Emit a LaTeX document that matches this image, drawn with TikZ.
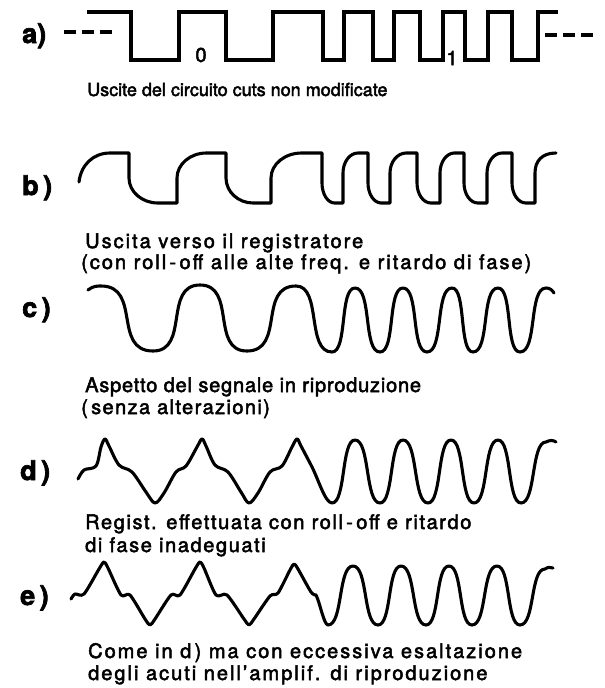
\documentclass[tikz,border=0pt]{standalone}
\usepackage{fontspec}
\setmainfont{TeX Gyre Heros}[FakeBold=2.5]
\begin{document}
\begin{tikzpicture}[x=1pt, y=-1pt,
  wave/.style={line width=3.1pt, line cap=round, line join=round},
  tag/.style={anchor=base west, inner sep=0pt, font=\fontsize{27}{29}\selectfont\bfseries},
  caption/.style={anchor=base west, inner sep=0pt,
    font=\fontsize{20}{22}\selectfont\addfontfeature{LetterSpace=10}}]

  % Bounding box = the 605x688 page, y runs downwards
  \path[use as bounding box] (0,0) rectangle (605,688);

  % ---- a) square wave from the circuit ----
  \node[tag] (tagA) at (22,43) {a)};
  \draw[wave, line join=miter, line cap=butt] (87,12)
    \foreach \xa/\ya/\yb in {131/12/60, 179/60/12, 226/12/60, 273/60/12,
                             323/12/60, 344/60/12, 373/12/60, 394/60/12,
                             420/12/60, 443/60/12, 465/12/60, 488/60/12,
                             512/12/60, 538/60/12}
    { -- (\xa,\ya) -- (\xa,\yb) } -- (558,12);
  \draw[wave, line cap=butt, dash pattern=on 12pt off 6pt] (64,32) -- (113,32);
  \draw[wave, line cap=butt, dash pattern=on 12pt off 6pt] (545,35) -- (595,35);
  \node[caption, anchor=center, font=\fontsize{20}{22}\selectfont] (bitZero) at (201,55) {0};
  \node[caption, anchor=center, font=\fontsize{20}{22}\selectfont] (bitOne) at (452,58) {1};
  \node[caption, font=\fontsize{18}{20}\selectfont] (capA) at (87,96)
    {Uscite del circuito cuts non modificate};

  % ---- b) output towards the recorder ----
  \node[tag] (tagB) at (22,195) {b\,)};
  \draw[wave] (79,182) .. controls (81,165) and (93,153) .. (110,153) -- (129,153)
    \foreach \xa/\xb/\ya/\yb/\f in {129/177/153/203/0.5, 177/226/203/153/0.5,
                                   226/271/153/203/0.5, 271/322/203/153/0.5,
                                   322/343/153/203/0.6, 343/368/203/153/0.6,
                                   368/390/153/203/0.6, 390/417/203/153/0.6,
                                   417/440/153/203/0.6, 440/464/203/153/0.6,
                                   464/487/153/203/0.6, 487/512/203/153/0.6,
                                   512/535/153/203/0.6}
    { -- (\xa,{\ya+\f*(\yb-\ya)})
      .. controls (\xa,{\ya+(\f+0.55*(1-\f))*(\yb-\ya)}) and ({\xa+0.27*(\xb-\xa)},\yb)
      .. ({\xa+0.6*(\xb-\xa)},\yb) -- (\xb,\yb) }
    -- (535,173) .. controls (535,161) and (542,153) .. (556,153);
  \node[caption] (capB1) at (85,248) {Uscita verso il registratore};
  \node[caption] (capB2) at (81,269) {(con roll\,-\,off alle alte freq. e ritardo di fase)};

  % ---- c) playback signal ----
  \node[tag] (tagC) at (22,317) {c\,)};
  \draw[wave] (88,290) .. controls (93,286) and (97,286) .. (101,286)
    \foreach \xa/\ya/\xb/\yb/\k in {101/286/153/351/0.78, 153/351/200/285/0.78,
                                    200/285/247/351/0.78, 247/351/296/286/0.78,
                                    296/286/332/352/0.72, 332/352/355/288/0.68,
                                    355/288/380/352/0.68, 380/352/403/288/0.68,
                                    403/288/427/352/0.68, 427/352/452/288/0.68,
                                    452/288/473/352/0.68, 473/352/498/288/0.68,
                                    498/288/520/352/0.68, 520/352/546/288/0.68}
    { .. controls ({\xa+\k*(\xb-\xa)},\ya) and ({\xb-\k*(\xb-\xa)},\yb) .. (\xb,\yb) }
    .. controls (550,288) and (552,290) .. (554,293);
  \node[caption, font=\fontsize{20}{22}\selectfont\addfontfeature{LetterSpace=4}] (capC1)
    at (85,392) {Aspetto del segnale in riproduzione};
  \node[caption, font=\fontsize{20}{22}\selectfont\addfontfeature{LetterSpace=7}] (capC2)
    at (81,414) {(\,senza alterazioni)};

  % ---- d) wrong roll-off and phase ----
  \node[tag] (tagD) at (20,480) {d\,)};
  \draw[wave] plot[smooth, tension=0.55] coordinates {
    (78,479) (84,470) (96,466) (101,447) (105,439) (109,446) (119,465) (132,472)
    (146,492) (155,503) (164,493) (176,472) (186,466) (197,447) (202,439) (206,446)
    (215,465) (228,472) (241,492) (249,503) (258,493) (270,472) (282,466) (292,447)
    (297,439) (301,446) (311,465)}
    .. controls (318,478) and (325,503) .. (332,503)
    \foreach \xa/\ya/\xb/\yb in {332/503/355/440, 355/440/380/503, 380/503/403/440,
                                 403/440/428/503, 428/503/451/440, 451/440/474/503,
                                 474/503/498/440, 498/440/521/503, 521/503/546/442}
    { .. controls ({\xa+0.6*(\xb-\xa)},\ya) and ({\xb-0.6*(\xb-\xa)},\yb) .. (\xb,\yb) }
    .. controls (550,440) and (553,440) .. (556,442);
  \node[caption, font=\fontsize{20}{22}\selectfont\addfontfeature{LetterSpace=8}] (capD1)
    at (85,529) {Regist. effettuata con roll\,-\,off e ritardo};
  \node[caption, font=\fontsize{20}{22}\selectfont\addfontfeature{LetterSpace=8}] (capD2)
    at (85,552) {di fase inadeguati};

  % ---- e) as d) plus treble boost ----
  \node[tag] (tagE) at (20,605) {e\,)};
  \draw[wave] plot[smooth, tension=0.45] coordinates {
    (71,599) (75,594) (84,594) (99,569) (104,562) (108,568) (121,595) (130,595)
    (145,619) (150,625) (155,619) (171,595) (180,595) (195,569) (200,562) (204,568)
    (216,595) (227,595) (244,619) (249,625) (254,619) (270,596) (278,593) (290,570)
    (294,564) (298,569) (311,592) (316,595)}
    .. controls (320,603) and (324,625) .. (328,625)
    \foreach \xa/\ya/\xb/\yb in {328/625/353/566, 353/566/378/625, 378/625/401/566,
                                 401/566/426/625, 426/625/449/566, 449/566/472/625,
                                 472/625/497/566, 497/566/520/625, 520/625/545/569}
    { .. controls ({\xa+0.6*(\xb-\xa)},\ya) and ({\xb-0.6*(\xb-\xa)},\yb) .. (\xb,\yb) }
    .. controls (548,567) and (550,567) .. (553,568);
  \node[caption] (capE1) at (88,658) {Come in d\,) ma con eccessiva esaltazione};
  \node[caption] (capE2) at (88,680) {degli acuti nell’amplif. di riproduzione};
\end{tikzpicture}
\end{document}
